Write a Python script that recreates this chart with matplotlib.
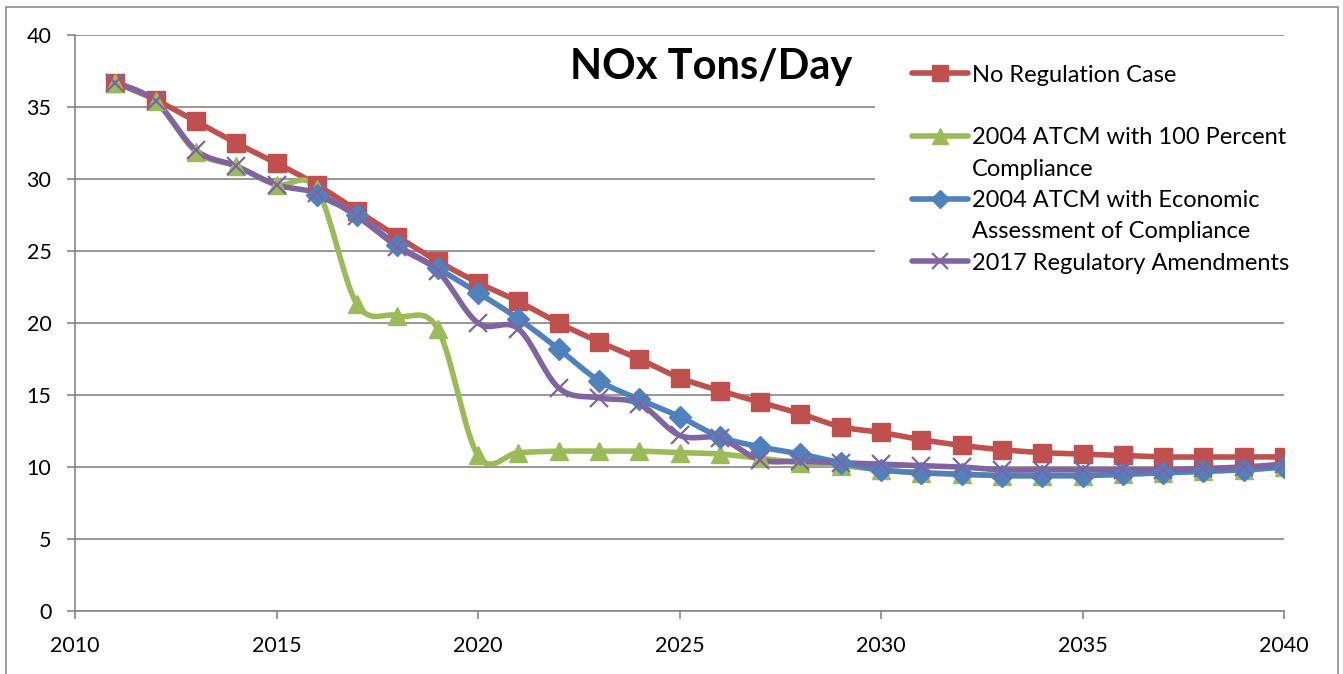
import numpy as np
import matplotlib
matplotlib.use("Agg")
import matplotlib.pyplot as plt
from matplotlib.lines import Line2D
from matplotlib.patches import Rectangle

plt.rcParams['font.family'] = ['Lato', 'DejaVu Sans']

# data
years = list(range(2011, 2041))
years_econ = list(range(2016, 2041))

no_regulation = [36.7, 35.5, 34.0, 32.5, 31.1, 29.6, 27.8, 26.0, 24.3, 22.8,
                 21.5, 20.0, 18.7, 17.5, 16.2, 15.3, 14.5, 13.7, 12.8, 12.4,
                 11.9, 11.5, 11.2, 11.0, 10.9, 10.8, 10.7, 10.7, 10.7, 10.7]
atcm_100 = [36.7, 35.4, 31.9, 30.9, 29.6, 29.3, 21.3, 20.5, 19.6, 10.8,
            11.0, 11.1, 11.1, 11.1, 11.0, 10.9, 10.6, 10.3, 10.1, 9.8,
            9.6, 9.5, 9.4, 9.4, 9.4, 9.5, 9.6, 9.7, 9.8, 10.0]
atcm_econ = [28.9, 27.5, 25.4, 23.8, 22.1, 20.3, 18.2, 16.0, 14.7, 13.5,
             12.1, 11.4, 10.9, 10.3, 9.8, 9.6, 9.5, 9.4, 9.4, 9.4,
             9.5, 9.6, 9.7, 9.8, 10.0]
amend_2017 = [36.7, 35.4, 32.0, 30.9, 29.6, 29.0, 27.4, 25.3, 23.6, 20.0,
              19.6, 15.5, 14.8, 14.4, 12.2, 12.0, 10.5, 10.4, 10.3, 10.2,
              10.1, 10.0, 9.8, 9.8, 9.8, 9.8, 9.8, 9.9, 10.0, 10.2]

labels = [["No Regulation Case"],
          ["2004 ATCM with 100 Percent", "Compliance"],
          ["2004 ATCM with Economic", "Assessment of Compliance"],
          ["2017 Regulatory Amendments"]]
colors = ["#C0504D", "#9BBB59", "#4F81BD", "#8064A2"]


def smooth(x, y, n=20):
    """Excel-style smoothed line (Catmull-Rom bezier) through the points."""
    x = np.asarray(x, float)
    y = np.asarray(y, float)
    p = np.column_stack([x, y])
    out = []
    for i in range(len(p) - 1):
        p0 = p[i - 1] if i > 0 else p[i]
        p1, p2 = p[i], p[i + 1]
        p3 = p[i + 2] if i + 2 < len(p) else p[i + 1]
        c1 = p1 + (p2 - p0) / 6
        c2 = p2 - (p3 - p1) / 6
        t = np.linspace(0, 1, n)[:, None]
        seg = ((1 - t) ** 3 * p1 + 3 * (1 - t) ** 2 * t * c1
               + 3 * (1 - t) * t ** 2 * c2 + t ** 3 * p2)
        out.append(seg if i == 0 else seg[1:])
    s = np.vstack(out)
    return s[:, 0], s[:, 1]


def fx(px):
    return px / 1343


def fy(py):
    return 1 - py / 674


fig = plt.figure(figsize=(13.43, 6.74), dpi=100)
ax = fig.add_axes([fx(75), 63 / 674, 1209 / 1343, 576 / 674])

grey = "#868686"
lw = 4
styles = [dict(marker="s", ms=13.5),
          dict(marker="^", ms=13),
          dict(marker="D", ms=11),
          dict(marker="x", ms=13, mew=1.6)]
series = [(years, no_regulation), (years, atcm_100),
          (years_econ, atcm_econ), (years, amend_2017)]

for (xs, ys), c, st in zip(series, colors, styles):
    sx, sy = smooth(xs, ys)
    ax.plot(sx, sy, color=c, lw=lw, solid_capstyle="round", zorder=3)
    ax.plot(xs, ys, ls="none", color=c, mec=c, zorder=4, **st)

ax.set_xlim(2010, 2040)
ax.set_ylim(0, 40)
ax.set_xticks(range(2010, 2041, 5))
ax.set_yticks(range(0, 41, 5))
ax.yaxis.grid(True, color=grey, lw=1.2)
ax.set_axisbelow(True)
for s in ["top", "right"]:
    ax.spines[s].set_visible(False)
for s in ["left", "bottom"]:
    ax.spines[s].set_color(grey)
    ax.spines[s].set_linewidth(1.2)
ax.tick_params(axis="both", colors=grey, labelcolor="black", labelsize=15.5,
               length=6, width=1.2, direction="out")
ax.tick_params(axis="y", pad=11)
ax.tick_params(axis="x", pad=12)

fig.text(fx(711), fy(67), "NOx Tons/Day", ha="center", va="center",
         fontsize=30, fontweight="bold")

# legend drawn by hand, Excel style (handle on first line of each entry)
fig.patches.append(Rectangle((fx(875), fy(290)), fx(1292) - fx(875),
                             fy(45) - fy(290), transform=fig.transFigure,
                             facecolor="white", edgecolor="none", zorder=2))
rows = [[73], [136, 167], [199, 230], [261]]
for lab, c, st, row in zip(labels, colors, styles, rows):
    fig.lines.append(Line2D([fx(912), fx(968)], [fy(row[0]), fy(row[0])],
                            transform=fig.transFigure, color=c, lw=lw,
                            solid_capstyle="round", zorder=5))
    mst = dict(st)
    mst["ms"] = mst["ms"] * 0.85
    fig.lines.append(Line2D([fx(940)], [fy(row[0])], transform=fig.transFigure,
                            color=c, mec=c, ls="none", zorder=6, **mst))
    for line, r in zip(lab, row):
        fig.text(fx(972), fy(r), line, ha="left", va="center_baseline",
                 fontsize=17, zorder=6)

# outer chart border
fig.patches.append(Rectangle((6 / 1343, -0.05), 1332 / 1343, 1.05 - 7 / 674,
                             transform=fig.transFigure, facecolor="none",
                             edgecolor="#8C8C8C", lw=1.2, zorder=10))

fig.savefig("out.png", dpi=100)
